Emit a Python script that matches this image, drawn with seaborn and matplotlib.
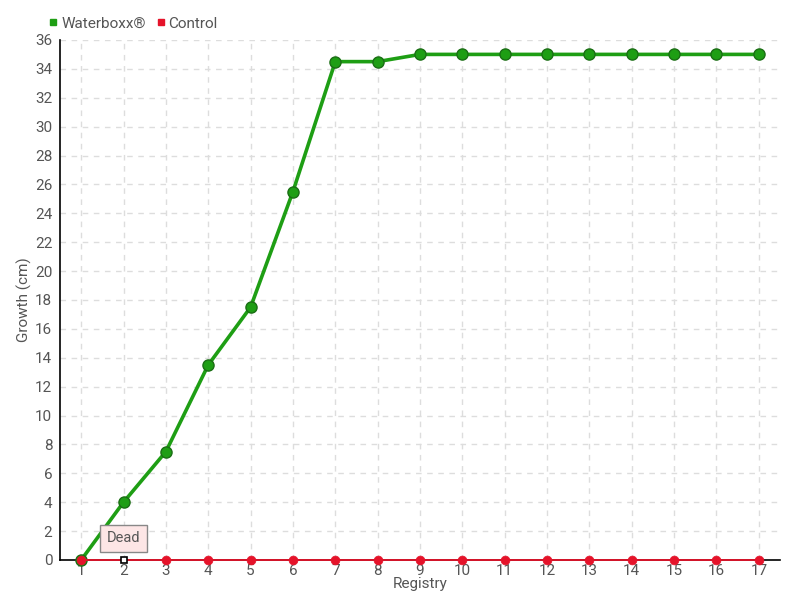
import pandas as pd
import numpy as np
import matplotlib
matplotlib.use("Agg")
import matplotlib.pyplot as plt
import seaborn as sns
from matplotlib.lines import Line2D

registry = list(range(1, 18))
waterboxx = [0, 4, 7.5, 13.5, 17.5, 25.5, 34.5, 34.5, 35, 35, 35, 35, 35, 35, 35, 35, 35]
control = [0] * 17
dead_point = 2

green = "#1e9e14"
red = "#e5132a"
text_col = "#555555"

sns.set_style("white")
plt.rcParams['font.family'] = ['Roboto', 'DejaVu Sans']

df = pd.DataFrame({"Registry": registry, "Waterboxx®": waterboxx, "Control": control})

fig = plt.figure(figsize=(8, 6), dpi=100)
ax = fig.add_axes([0.075, 0.0667, 0.9, 0.8667])

sns.lineplot(data=df, x="Registry", y="Waterboxx®", ax=ax, color=green, linewidth=2.6,
             marker="o", markersize=8, markeredgecolor="#1a6e14", markeredgewidth=1,
             zorder=5, clip_on=False)
sns.lineplot(data=df, x="Registry", y="Control", ax=ax, color=red, linewidth=1.3,
             zorder=6, clip_on=False)
alive = df[df["Registry"] != dead_point]
sns.scatterplot(data=alive, x="Registry", y="Control", ax=ax, color=red, s=40,
                edgecolor=red, zorder=7, clip_on=False)
ax.plot([dead_point], [0], marker="s", markersize=5, markerfacecolor="white",
        markeredgecolor="black", markeredgewidth=1.2, linestyle="none", zorder=8, clip_on=False)

ax.annotate("Dead", xy=(dead_point, 0.2), xytext=(dead_point, 1.5), ha="center", va="center",
            fontsize=10.5, color=text_col,
            bbox=dict(boxstyle="square,pad=0.45", fc="#fde6e6", ec="#888888", lw=1),
            arrowprops=dict(arrowstyle="-", color="#888888", lw=0), zorder=9)

ax.set_xlim(0.5, 17.5)
ax.set_ylim(0, 36)
ax.set_xticks(registry)
ax.set_yticks(range(0, 37, 2))
ax.grid(True, linestyle=(0, (4, 4)), color="#dddddd", linewidth=1)
for s in ["top", "right"]:
    ax.spines[s].set_visible(False)
ax.spines["left"].set_color("black")
ax.spines["bottom"].set_color("black")
ax.spines["left"].set_linewidth(1.2)
ax.spines["bottom"].set_linewidth(1.2)
ax.tick_params(axis="y", length=4, width=1.2, color="black", direction="inout", labelcolor=text_col, labelsize=11)
ax.tick_params(axis="x", length=0, labelcolor=text_col, labelsize=11, pad=3)
ax.set_xlabel("Registry", color=text_col, fontsize=11, labelpad=-1)
ax.set_ylabel("Growth (cm)", color=text_col, fontsize=11, labelpad=2)

handles = [Line2D([], [], marker="s", color=green, linestyle="none", markersize=5),
           Line2D([], [], marker="s", color=red, linestyle="none", markersize=5)]
fig.legend(handles, ["Waterboxx®", "Control"], loc="upper left", bbox_to_anchor=(0.042, 0.995),
           ncol=2, frameon=False, handletextpad=0.1, columnspacing=0.6, fontsize=11,
           labelcolor=text_col, handlelength=0.8)

fig.savefig("out.png", dpi=100)
